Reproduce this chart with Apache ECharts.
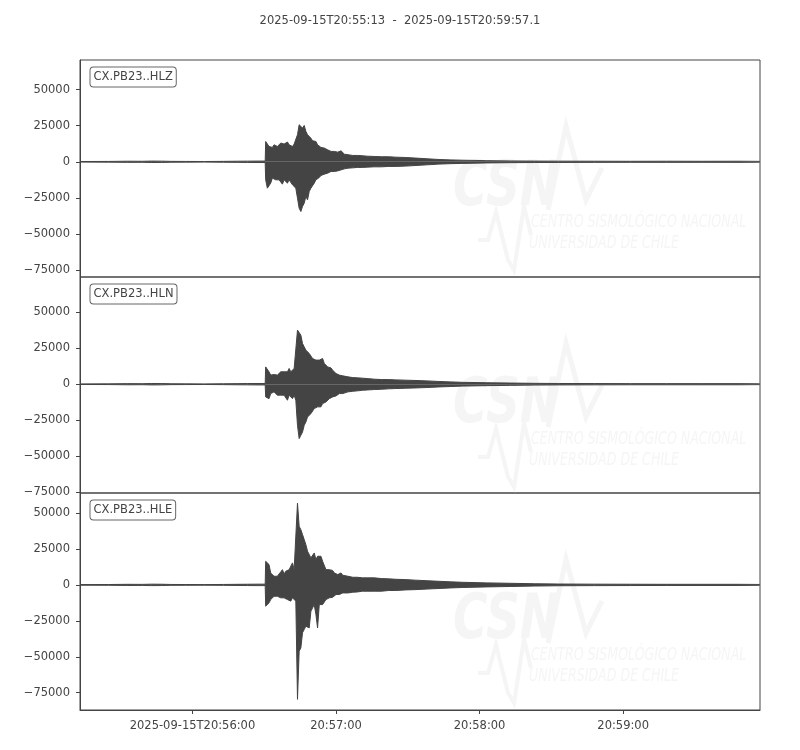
<!DOCTYPE html>
<html>
<head>
<meta charset="utf-8">
<script src="https://cdn.jsdelivr.net/npm/echarts@6/dist/echarts.min.js"></script>
<style>
html, body { margin: 0; padding: 0; background: #fff; }
#chart { width: 800px; height: 750px; }
</style>
</head>
<body>
<div id="chart"></div>
<script>
// seconds after 2025-09-15T20:55:13
var timeSec = [0, 12, 20, 26, 30, 34, 38, 44, 52, 60, 66, 70, 74, 77.4,
  77.6, 78.3, 79.0, 79.7, 80.4, 81.1, 81.8, 82.5, 83.2, 83.9, 84.6, 85.3, 86.0, 86.7, 87.4, 88.1,
  88.8, 89.5, 90.2, 90.9, 91.6, 92.3, 93.0, 93.7, 94.4, 95.1, 95.8, 96.5, 97.2, 97.9, 98.6, 99.3,
  100.0, 100.7, 101.4, 102.1, 102.8, 103.5, 104.2, 104.9, 105.6, 106.3, 107.0, 107.7, 108.4, 109.1,
  109.8, 110.5,
  112, 114, 116, 118, 120, 123, 126, 129, 132, 136, 140, 145, 150, 155, 160, 170, 180, 190, 200,
  215, 230, 245, 260, 275, 284.1];

// envelope (upper / lower) of each trace, counts
var hlzHi = [200, 250, 400, 350, 500, 450, 300, 250, 200, 300, 400, 450, 500, 500,
  14100, 13700, 10600, 9500, 10000, 11800, 12300, 10600, 11800, 13000, 11800, 12300, 13000, 13700,
  11800, 12300, 10600, 12300, 11800, 18800, 25700, 24500, 23400, 25200, 21100, 18800, 17600, 16400,
  14600, 13700, 14100, 11800, 10600, 10000, 10600, 9500, 9000, 8300, 7600, 7200, 6700, 7200, 6300,
  6700, 7200, 7600, 8100, 5300,
  4900, 4400, 4400, 4200, 3900, 3700, 3500, 3500, 3200, 3000, 2600, 2100, 1600, 1300, 1100, 800,
  600, 500, 450, 400, 350, 400, 350, 400, 300];
var hlzLo = [-200, -250, -400, -350, -500, -450, -300, -250, -200, -300, -400, -450, -500, -500,
  -12500, -18300, -18800, -14800, -11300, -10900, -12500, -11300, -12500, -13700, -15500, -12500,
  -11300, -14800, -12500, -13700, -16000, -14800, -18300, -25200, -32200, -34500, -31000, -28700,
  -24100, -26400, -20600, -18300, -17100, -14800, -12500, -11300, -10900, -9500, -9000, -8600,
  -7900, -7900, -7200, -6700, -6300, -6700, -5800, -6300, -5600, -5600, -4900, -4900,
  -4400, -4200, -3900, -3900, -3700, -3500, -3500, -3200, -3200, -3000, -2600, -2100, -1600, -1300,
  -1100, -800, -600, -500, -450, -400, -350, -400, -350, -400, -300];

var hlnHi = [200, 250, 400, 350, 500, 450, 300, 250, 200, 300, 400, 450, 500, 500,
  12000, 12000, 8600, 6300, 6300, 6700, 7400, 6300, 7400, 8600, 7400, 8600, 9700, 8600, 10900,
  8600, 9700, 10900, 10900, 37500, 36300, 34000, 28200, 25900, 23600, 24800, 21300, 20100, 17800,
  19000, 16700, 17800, 16700, 15500, 17800, 14400, 13200, 12000, 10900, 11300, 9700, 8600, 7400,
  6700, 6300, 6300, 5800, 6300,
  5100, 4600, 4400, 4200, 3900, 3500, 3200, 3200, 3000, 2800, 2600, 2300, 1900, 1600, 1300, 1000,
  800, 600, 500, 450, 400, 400, 400, 400, 300];
var hlnLo = [-200, -250, -400, -350, -500, -450, -300, -250, -200, -300, -400, -450, -500, -500,
  -8800, -7600, -10000, -6500, -7600, -5300, -6500, -7600, -6500, -7600, -8800, -7600, -6500,
  -11100, -7600, -8800, -10000, -7600, -11100, -28500, -37700, -35400, -33100, -28500, -26200,
  -22700, -23800, -20400, -19200, -16900, -18100, -15700, -14600, -15700, -13400, -14600, -12300,
  -11100, -10000, -11100, -8800, -8800, -8100, -7600, -6500, -6500, -6500, -5800,
  -5300, -4900, -4600, -4200, -4000, -3700, -3500, -3200, -3000, -2800, -2600, -2300, -1900, -1600,
  -1300, -1000, -800, -600, -500, -450, -400, -400, -400, -400, -300];

var hleHi = [200, 250, 400, 350, 500, 450, 300, 250, 200, 300, 400, 450, 500, 500,
  16400, 16000, 14100, 8300, 7200, 6000, 7200, 6000, 7600, 9000, 10600, 7600, 9500, 8300, 10600,
  9500, 15300, 10600, 9500, 56900, 40700, 38400, 35000, 31500, 28000, 23400, 22200, 18800, 19900,
  22200, 17600, 19900, 18800, 19900, 16400, 15300, 10600, 11800, 10600, 9500, 10000, 8300, 7600,
  7200, 7600, 8300, 6700, 7200,
  6000, 5300, 5300, 4900, 4900, 4900, 4400, 4200, 3900, 3700, 3300, 2900, 2500, 2100, 1800, 1400,
  1100, 800, 600, 500, 450, 400, 400, 400, 300];
var hleLo = [-200, -250, -400, -350, -500, -450, -300, -250, -200, -300, -400, -450, -500, -500,
  -14800, -14800, -12500, -10200, -9000, -7900, -9000, -7900, -8600, -9000, -7900, -9000, -8600,
  -10200, -9000, -11300, -9000, -10200, -11300, -79600, -46100, -43800, -33300, -31000, -28700,
  -27500, -29900, -18300, -19400, -13700, -20600, -29900, -13700, -12500, -13700, -12500, -10200,
  -9000, -9000, -7900, -8600, -7900, -6700, -7200, -6700, -6300, -5600, -6300,
  -5600, -5100, -4900, -4400, -4400, -4400, -4400, -3900, -3900, -3500, -3300, -2900, -2500, -2100,
  -1800, -1400, -1100, -800, -600, -500, -450, -400, -400, -400, -300];

var channels = ['CX.PB23..HLZ', 'CX.PB23..HLN', 'CX.PB23..HLE'];
var titleText = '2025-09-15T20:55:13  -  2025-09-15T20:59:57.1';
var tickSec = [47, 107, 167, 227];
var tickLabels = ['2025-09-15T20:56:00', '20:57:00', '20:58:00', '20:59:00'];
var yTicks = [-75000, -50000, -25000, 0, 25000, 50000];
var yMin = [-79900, -75400, -87000];
var yMax = [70600, 74300, 63900];

var upper = [hlzHi, hlnHi, hleHi];
var lower = [hlzLo, hlnLo, hleLo];

var ink = '#444';
var font = 'DejaVu Sans';
var gridTop = [60, 277, 493];
var gridH = [217, 216, 217];

var grids = [], xAxes = [], yAxes = [], series = [], graphics = [];

// faint CSN logo behind each trace
function watermark(top) {
  var c = '#f5f5f5';
  return [
    { type: 'text', z: 1, silent: true, x: 453, y: top + 98, scaleX: 0.76,
      style: { text: 'CSN', fill: c, font: 'italic bold 62px "DejaVu Sans"' } },
    { type: 'polyline', z: 1, silent: true,
      shape: { points: [[548, top + 150], [566, top + 66], [586, top + 140], [602, top + 108]] },
      style: { stroke: c, lineWidth: 5, fill: null } },
    { type: 'polyline', z: 1, silent: true,
      shape: { points: [[478, top + 180], [488, top + 180], [496, top + 152], [508, top + 200],
        [514, top + 210], [524, top + 146], [531, top + 175]] },
      style: { stroke: c, lineWidth: 4, fill: null } },
    { type: 'text', z: 1, silent: true, x: 531, y: top + 153, scaleX: 0.7,
      style: { text: 'CENTRO SISMOLÓGICO NACIONAL', fill: c, font: 'italic 18px "DejaVu Sans"' } },
    { type: 'text', z: 1, silent: true, x: 529, y: top + 174, scaleX: 0.7,
      style: { text: 'UNIVERSIDAD DE CHILE', fill: c, font: 'italic 18px "DejaVu Sans"' } }
  ];
}

for (var i = 0; i < 3; i++) {
  var last = i === 2;
  grids.push({
    left: 80, width: 680, top: gridTop[i], height: gridH[i],
    show: true, borderColor: ink, borderWidth: 1, backgroundColor: 'transparent'
  });
  xAxes.push({
    type: 'value', gridIndex: i, min: 0, max: 284.2,
    axisLine: { show: last, onZero: false, lineStyle: { color: ink } },
    splitLine: { show: false },
    axisTick: { show: last, customValues: tickSec, length: 4, lineStyle: { color: ink } },
    axisLabel: {
      show: last, customValues: tickSec, margin: 10, color: ink,
      fontFamily: font, fontSize: 11.5,
      formatter: function (v) { return tickLabels[tickSec.indexOf(v)]; }
    }
  });
  yAxes.push({
    type: 'value', gridIndex: i, min: yMin[i], max: yMax[i],
    axisLine: { show: true, onZero: false, lineStyle: { color: ink } },
    splitLine: { show: false },
    axisTick: { show: true, customValues: yTicks, length: 4, lineStyle: { color: ink } },
    axisLabel: {
      customValues: yTicks, margin: 10, color: ink, fontFamily: font, fontSize: 11.5,
      padding: [4, 0, 0, 0],
      formatter: function (v) { return String(v).replace('-', '\u2212'); }
    }
  });
  [upper[i], lower[i]].forEach(function (vals) {
    series.push({
      type: 'line', xAxisIndex: i, yAxisIndex: i, silent: true,
      symbol: 'none', z: 3,
      data: timeSec.map(function (t, k) { return [t, vals[k]]; }),
      lineStyle: { color: ink, width: 1 },
      areaStyle: { color: ink, opacity: 1 }
    });
  });
  graphics = graphics.concat(watermark(gridTop[i]));
  graphics.push({
    type: 'text', z: 100, x: 90.5, y: gridTop[i] + 7.5,
    style: {
      text: channels[i], fill: ink, fontFamily: font, fontSize: 11.5,
      backgroundColor: '#fff', borderColor: '#666', borderWidth: 1, borderRadius: 3,
      padding: [4, 3, 3, 3]
    }
  });
}

var chart = echarts.init(document.getElementById('chart'));
chart.setOption({
  animation: false,
  backgroundColor: '#fff',
  title: {
    text: titleText, left: 'center', top: 15, padding: 0,
    textStyle: { color: ink, fontFamily: font, fontSize: 11.5, fontWeight: 'normal' }
  },
  grid: grids,
  xAxis: xAxes,
  yAxis: yAxes,
  series: series,
  graphic: graphics
});
</script>
</body>
</html>
